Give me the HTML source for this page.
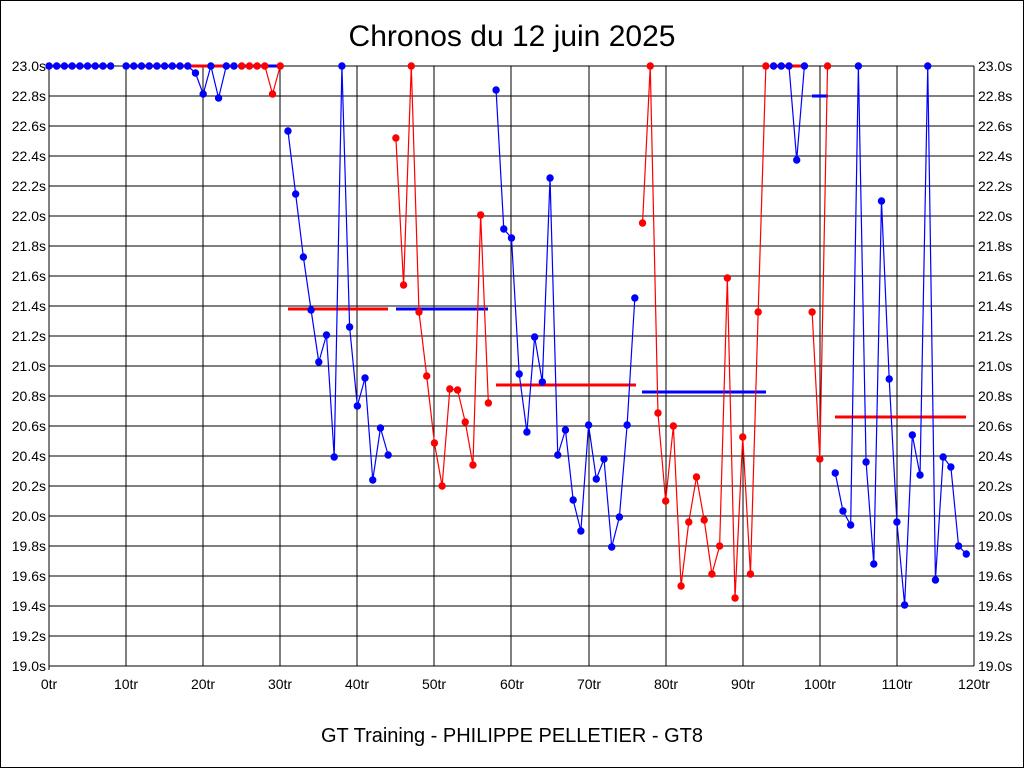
<!DOCTYPE html>
<html><head><meta charset="utf-8"><style>
html,body{margin:0;padding:0;background:#fff}
svg{display:block}
text{font-family:"Liberation Sans",sans-serif;fill:#000}
</style></head><body>
<svg id="s" width="1024" height="768" viewBox="0 0 1024 768" xmlns="http://www.w3.org/2000/svg">
<rect x="0.5" y="0.5" width="1023" height="767" fill="#fff" stroke="#000"/>
<g id="grid" stroke="#000" stroke-width="1" shape-rendering="crispEdges"></g>
<text x="512" y="46" font-size="30" text-anchor="middle">Chronos du 12 juin 2025</text>
<g font-size="14" text-anchor="end">
<text x="46" y="71">23.0s</text><text x="46" y="101">22.8s</text><text x="46" y="131">22.6s</text><text x="46" y="161">22.4s</text><text x="46" y="191">22.2s</text><text x="46" y="221">22.0s</text><text x="46" y="251">21.8s</text><text x="46" y="281">21.6s</text><text x="46" y="311">21.4s</text><text x="46" y="341">21.2s</text><text x="46" y="371">21.0s</text><text x="46" y="401">20.8s</text><text x="46" y="431">20.6s</text><text x="46" y="461">20.4s</text><text x="46" y="491">20.2s</text><text x="46" y="521">20.0s</text><text x="46" y="551">19.8s</text><text x="46" y="581">19.6s</text><text x="46" y="611">19.4s</text><text x="46" y="641">19.2s</text><text x="46" y="671">19.0s</text>
</g>
<g font-size="14" text-anchor="start">
<text x="978" y="71">23.0s</text><text x="978" y="101">22.8s</text><text x="978" y="131">22.6s</text><text x="978" y="161">22.4s</text><text x="978" y="191">22.2s</text><text x="978" y="221">22.0s</text><text x="978" y="251">21.8s</text><text x="978" y="281">21.6s</text><text x="978" y="311">21.4s</text><text x="978" y="341">21.2s</text><text x="978" y="371">21.0s</text><text x="978" y="401">20.8s</text><text x="978" y="431">20.6s</text><text x="978" y="461">20.4s</text><text x="978" y="491">20.2s</text><text x="978" y="521">20.0s</text><text x="978" y="551">19.8s</text><text x="978" y="581">19.6s</text><text x="978" y="611">19.4s</text><text x="978" y="641">19.2s</text><text x="978" y="671">19.0s</text>
</g>
<g font-size="14" text-anchor="middle">
<text x="49" y="689">0tr</text><text x="126" y="689">10tr</text><text x="203" y="689">20tr</text><text x="280" y="689">30tr</text><text x="357" y="689">40tr</text><text x="434" y="689">50tr</text><text x="512" y="689">60tr</text><text x="589" y="689">70tr</text><text x="666" y="689">80tr</text><text x="743" y="689">90tr</text><text x="820" y="689">100tr</text><text x="897" y="689">110tr</text><text x="974" y="689">120tr</text>
</g>
<text x="512" y="742" font-size="20" text-anchor="middle">GT Training - PHILIPPE PELLETIER - GT8</text>
<g id="data"></g>
</svg>
<script>
var NS="http://www.w3.org/2000/svg";
function el(p,t,a){var e=document.createElementNS(NS,t);for(var k in a)e.setAttribute(k,a[k]);p.appendChild(e);return e;}
var g=document.getElementById('grid');
for(var i=0;i<=20;i++){var y=66+i*30;el(g,'line',{x1:49,x2:974,y1:y,y2:y});}
for(var i=0;i<=12;i++){var x=49+i*77.083;x=Math.round(x);el(g,'line',{x1:x,x2:x,y1:66,y2:666});}
el(g,'line',{x1:49,x2:49,y1:66,y2:670});
var d=document.getElementById('data');
function X(l){return 49+l*7.7083;}
var R='#ff0000',B='#0000ff';
function avg(x1,x2,y,c){el(d,'line',{x1:x1,x2:x2,y1:y,y2:y,stroke:c,'stroke-width':3});}
function ser(start,ys,c,line){
 var pts=ys.map(function(y,i){return [X(start+i),y];});
 if(line!==false) el(d,'polyline',{points:pts.map(function(p){return p.join(',')}).join(' '),fill:'none',stroke:c,'stroke-width':1.2});
 pts.forEach(function(p){el(d,'circle',{cx:p[0],cy:p[1],r:3.7,fill:c});});
}
avg(49,111,66,R);avg(126,237,66,R);avg(238,280,66,B);
ser(0,[66,66,66,66,66,66,66,66,66],B);
ser(10,[66,66,66,66,66,66,66,66,66,73,94,66,98,66,66],B);
ser(25,[66,66,66,66,94,66],R);
avg(288,388,309,R);
ser(31,[131,194,257,310,362,335,457,66,327,406,378,480,428,455],B);
avg(396,488,309,B);
ser(45,[138,285,66,312,376,443,486,389,390,422,465,215,403],R);
avg(496,636,385,R);
ser(58,[90,229,238,374,432,337,382,178,455,430,500,531,425,479,459,547,517,425,298],B);
avg(642,766,392,B);
ser(77,[223,66,413,501,426,586,522,477,520,574,546,278,598,437,574,312,66],R);
avg(773,805,66,R);
ser(94,[66,66,66,160,66],B);
avg(812,828,96,B);
ser(99,[312,459,66],R);
avg(835,966,417,R);
ser(102,[473,511,525,66,462,564,201,379,522,605,435,475,66,580,457,467,546,554],B);
</script>
</body></html>
